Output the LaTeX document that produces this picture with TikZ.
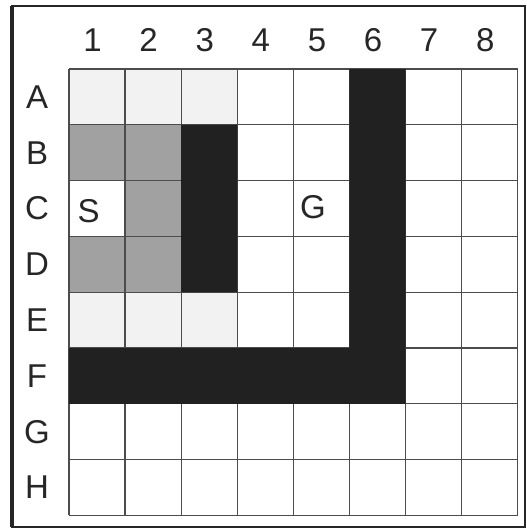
\documentclass[tikz,border=0pt]{standalone}
\usepackage{fontspec}
\setmainfont{Liberation Sans}
\tikzset{gridlabel/.style = {font=\fontsize{33}{35}\selectfont, text=black!85, inner sep=0pt},
  wall/.style = {fill=black!87},
  lightcell/.style = {fill=black!5},
  graycell/.style = {fill=black!37}}

\begin{document}
\begin{tikzpicture}[x=56.1pt, y=-55.8pt]
      \useasboundingbox (-1.23,-1.237) rectangle (8.164,8.244);
      \draw[line width=2.5pt, black!85] (-1.016,-1.129) rectangle (8.128,8.208);
      \draw[line width=4pt, black!85] (-1.016,-1.129) -- (-1.016,8.208);
      \fill[lightcell] (0,0) rectangle (3,1) (0,4) rectangle (3,5);
      \fill[graycell] (0,1) rectangle (2,2) (1,2) rectangle (2,4) (0,3) rectangle (1,4);
      \foreach \k in {0,...,8}
        \draw[line width=1.2pt, black!70] (\k,0) -- (\k,8) (0,\k) -- (8,\k);
      \fill[wall] (2,1) rectangle (3,4) (5,0) rectangle (6,6) (0,5) rectangle (6,6);
      \foreach \c in {1,...,8}
        \node[gridlabel] (col\c) at (\c-0.58,-0.52) {\c};
      \foreach \r [count=\i] in {A,B,C,D,E,F,G,H}
        \node[gridlabel] (row\r) at (-0.57,\i-0.5) {\r};
      \node[gridlabel] (start) at (0.35,2.55) {S};
      \node[gridlabel] (goal) at (4.35,2.48) {G};
    \end{tikzpicture}
\end{document}
